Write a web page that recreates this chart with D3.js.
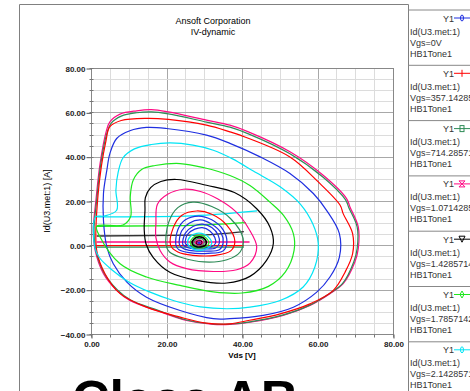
<!DOCTYPE html>
<html>
<head>
<meta charset="utf-8">
<script src="https://cdn.jsdelivr.net/npm/d3@7"></script>
<style>
  body { margin: 0; background: #fff; }
  svg { display: block; font-family: 'Liberation Sans', Arial, sans-serif; }
</style>
</head>
<body>
<script>
// loops, outermost first  [Vds, Id]
const loop25 = [[0.6,6.8],[1.3,20.3],[2.4,36.9],[4.0,51.2],[5.0,55.7],[7.7,59.2],[12.1,60.7],[16,61.2],[20.5,60.2],[30.6,56.5],[36.8,54.2],[41.7,51.2],[52.7,42.2],[61.5,31.6],[67.7,21.1],[68.6,17.3],[70.8,8.3],[70.8,-1.5],[69.9,-7.5],[66.8,-17.3],[63.3,-21.8],[58.0,-27.1],[50.9,-31.6],[42.1,-34.7],[36.8,-35.7],[32.4,-35.7],[25.3,-33.9],[17.4,-29.4],[10.3,-24.9],[6.8,-20.3],[3.3,-12.8],[1.1,-2.3]]
const loop24 = [[0.8,6.8],[1.5,20.3],[2.6,36.9],[4.2,50.5],[5.3,55.0],[8,58.3],[12.1,59.8],[16,60.2],[20.5,59.3],[30.6,55.6],[36.8,53.3],[41.7,50.3],[52.7,41.3],[61.5,30.7],[67.4,20.6],[68.3,17.0],[70.5,8.3],[70.5,-1.5],[69.6,-7.5],[66.6,-17.3],[63.1,-21.8],[57.8,-27.1],[50.7,-31.5],[42.1,-34.5],[36.8,-35.5],[32.4,-35.5],[25.3,-33.7],[17.6,-29.2],[10.5,-24.7],[7,-20.1],[3.5,-12.6],[1.3,-2.3]]
const loop23 = [[1.5,-2.3],[1.9,23.4],[4.0,47.5],[5.0,53.5],[8,56.3],[14.7,57.3],[20.5,56.8],[30.6,54.2],[36.8,51.2],[39.5,49.7],[52.7,39.9],[60.2,28.6],[66.0,18.1],[66.8,14.3],[69.3,5.3],[69.3,-3.8],[67.3,-12.1],[64.2,-20.3],[58.0,-26.4],[50.1,-30.9],[42,-33.8],[36.8,-35.4],[30.6,-35.1],[23.6,-32.4],[14.7,-27.9],[7.7,-21.8],[3.7,-12.8]]
const loop22 = [[3.3,11.3],[3.3,23.4],[4.2,33.9],[5.0,41.4],[6.8,48.2],[10.3,51.7],[14.7,53.2],[20.0,52.7],[30.6,49.7],[36.8,46.0],[44.8,39.9],[52.7,32.4],[58.9,23.4],[62.4,15.8],[65.8,5.3],[65.8,-5.3],[63.3,-14.3],[59.8,-21.1],[53.6,-27.9],[45.6,-31.6],[36.8,-33.1],[32.4,-33.1],[23.6,-29.4],[14.7,-23.4],[9.5,-16.6],[5.9,-8.3],[4.2,-0.8]]
const loop21 = [[6.8,15.8],[6.6,25],[7.2,33],[8.5,39.5],[11.5,43.5],[16,45.5],[21,46.2],[27,45.2],[32.4,42.9],[37.5,39],[43,33.5],[50.1,26.4],[55.5,18.5],[58.8,9.5],[60.2,0.8],[59.3,-9.8],[56.2,-18.8],[50.1,-24.9],[42.1,-27.9],[36,-28.6],[29,-27.8],[22,-25],[15.5,-21],[10,-16.5],[5.5,-11],[2.2,-5.5],[1.0,-0.8],[1.2,12.8],[3.5,13.2]]
const loop20 = [[10.5,13],[10.4,22],[11.2,29.5],[13.5,34.3],[17,36],[23.6,36.9],[30,35],[36.8,31.5],[42.1,27],[47.4,19.5],[51,13.5],[53.6,5.3],[53.8,-2.3],[51.5,-12],[47,-18.5],[40,-21.5],[32.4,-21],[23.6,-18.1],[14.7,-14.3],[7.7,-8.3],[2.4,3.8],[1.5,8.6],[8.5,9.2]]
const loop19 = [[14.3,15.8],[14.4,21.5],[15.8,26],[18.5,28.8],[22.7,29.7],[30.6,27.1],[38,23.8],[43.9,16.5],[47.4,8.3],[48.3,0.8],[46.5,-6.8],[42.1,-14],[36,-17],[28.0,-15.8],[21,-12.3],[16.5,-5.5],[14.6,0.5],[14.1,7]]
const loop18 = [[17.2,10],[17.6,18.5],[20.3,23],[24.5,25.3],[29,24.3],[33.5,21],[38.5,15],[41.8,7.5],[43.9,-0.8],[42.1,-8],[38.6,-11],[32.4,-11.8],[25.3,-10.5],[20.9,-7.5],[18.3,-2.3],[17.2,3.5]]
const loop17 = [[19.9,0],[20.5,10],[23,17],[27,19.5],[32,17.5],[37,12],[40.3,3],[39.5,-3],[36,-6.5],[30,-7.5],[24,-5.5],[20.8,-3]]
const loop16 = [[21.1,0],[21.8,8],[24,13.5],[28,15.5],[32,14],[36,9],[38.1,2],[37,-2.5],[33,-4.5],[27,-4.5],[23,-3]]
const loop15 = [[22.5,0],[23,7],[25,11.5],[28.5,13.2],[32,11.5],[35,7],[36,1.5],[35,-2.5],[31,-3.6],[26,-3.3],[23.3,-2]]
const loop14 = [[23.4,0.5],[24,6.5],[26,10],[29,11.5],[32,9.5],[34.5,5.5],[35,1],[34,-2],[30.5,-2.6],[26,-2.3],[24,-1]]
const loop13 = [[24.3,0.5],[25,5.5],[27,8.5],[29.5,9.6],[32,8],[33.7,4.5],[34,1],[33,-1.2],[30,-1.6],[26.5,-1.4],[25,-0.5]]
const loop12 = [[25.0,0.8],[25.6,5],[27.5,7.3],[29.5,8],[31.5,6.5],[32.8,3.5],[33,1],[32,-0.5],[29.5,-0.9],[27,-0.7],[25.6,0]]
const loop11 = [[25.6,1],[26.3,4],[28,5.4],[30,5],[31.5,3],[32,1],[31,-1.2],[29,-2.3],[27,-1.6]]
const loop10 = [[26.3,1],[27,3.5],[28.5,4.5],[30,4],[31,2.3],[31.2,0.8],[30.3,-0.7],[28.5,-1.3],[27,-0.6]]
const loop9 = [[26.8,1],[27.4,3],[28.6,3.8],[29.8,3.3],[30.5,1.8],[30.4,0.3],[29.3,-0.6],[27.8,-0.5]]
const loop8 = [[27.2,1],[27.8,2.6],[28.8,3.1],[29.7,2.6],[30,1.4],[29.6,0.2],[28.5,-0.2],[27.6,0.1]]
const loop7 = [[27.6,1],[28,2.2],[28.8,2.5],[29.4,2],[29.6,1],[29.1,0.3],[28.3,0.2]]
const loop6 = [[27.9,1],[28.3,1.9],[28.9,2],[29.3,1.5],[29.2,0.7],[28.6,0.4]]
const loop5 = [[28.1,1.1],[28.5,1.7],[29,1.6],[29.1,1],[28.6,0.7]]
const loop4 = [[28.3,1.1],[28.6,1.5],[28.9,1.3],[28.7,0.9]]

// horizontal start lines (one per trace that shows it)
const tailCyan = [[1.5,12.8],[25,13.2],[44,15.5]]
const tailGreen = [[1.5,8.6],[25,8.9],[41,10.2]]
const tailBlack = [[1.5,4.2],[28,4.6],[40.5,6.2]]
const tailMagenta = [[1.5,1.5],[42,1.5]]
const tailRed = [[1.5,-0.1],[40.5,-0.1]]
const tailDkGreen = [[1.5,-0.8],[40.5,-0.8]]

const blue = '#1f2fe0', red = '#ff0000', dkgreen = '#2e8b57', magenta = '#ff0a84'
const black = '#000000', green = '#1ee81e', cyan = '#00e5f5'
const palette = [blue, red, dkgreen, magenta, black, green, cyan]
const loops = [loop25, loop24, loop23, loop22, loop21, loop20, loop19, loop18, loop17, loop16, loop15, loop14, loop13, loop12, loop11, loop10, loop9, loop8, loop7, loop6, loop5, loop4]
const loopColors = [magenta, dkgreen, red, blue, cyan, green, black, magenta, dkgreen, red, blue, blue, blue, blue, cyan, green, black, dkgreen, magenta, black, magenta, blue]
const tails = [tailCyan, tailGreen, tailBlack, tailMagenta, tailRed, tailDkGreen]
const tailColors = [cyan, green, '#333333', magenta, red, dkgreen]

const xTicks = [0, 20, 40, 60, 80]
const yTicks = [-40, -20, 0, 20, 40, 60, 80]
const legendVgs = ['0V', '357.142857', '714.285714', '1.07142857', '1.42857143', '1.78571429', '2.14285714']
const legendMarks = ['o', '+', 's', 'x', 'v', 'd', 'o']

const W = 470, H = 391
const svg = d3.select('body').append('svg').attr('width', W).attr('height', H)

// outer frame
svg.append('path').attr('d', 'M19.5,391 V4.5 H408.5 V391')
  .attr('fill', 'none').attr('stroke', '#808080')

const x = d3.scaleLinear().domain([0, 80]).range([91, 393])
const y = d3.scaleLinear().domain([-40, 80]).range([334, 68])

svg.append('text').attr('x', 213).attr('y', 24).attr('text-anchor', 'middle')
  .style('font-size', '9px').text('Ansoft Corporation')
svg.append('text').attr('x', 213).attr('y', 35).attr('text-anchor', 'middle')
  .style('font-size', '9px').text('IV-dynamic')

// grid
const g = svg.append('g')
g.selectAll('.vx').data(d3.range(0, 81, 5)).enter().append('line')
  .attr('x1', d => Math.round(x(d)) + 0.5).attr('x2', d => Math.round(x(d)) + 0.5)
  .attr('y1', y(80)).attr('y2', y(-40))
  .attr('stroke', d => d % 20 === 0 ? '#a8a8a8' : '#dcdcdc')
g.selectAll('.hy').data(d3.range(-40, 81, 5)).enter().append('line')
  .attr('y1', d => Math.round(y(d)) + 0.5).attr('y2', d => Math.round(y(d)) + 0.5)
  .attr('x1', x(0)).attr('x2', x(80))
  .attr('stroke', d => d % 20 === 0 ? '#a8a8a8' : '#dcdcdc')
g.append('rect').attr('x', x(0) + 0.5).attr('y', y(80) + 0.5)
  .attr('width', x(80) - x(0)).attr('height', y(-40) - y(80))
  .attr('fill', 'none').attr('stroke', '#888')

// axes
const xAxis = svg.append('g').attr('transform', `translate(0.5,${Math.round(y(-40)) + 0.5})`)
  .call(d3.axisBottom(x).tickValues(xTicks).tickFormat(d3.format('.2f')).tickSize(4).tickPadding(3))
const yAxis = svg.append('g').attr('transform', `translate(${x(0) + 0.5},0.5)`)
  .call(d3.axisLeft(y).tickValues(yTicks).tickFormat(d3.format('.2f')).tickSize(5).tickPadding(1))
;[xAxis, yAxis].forEach(a => {
  a.select('.domain').remove()
  a.selectAll('line').attr('stroke', '#555')
  a.selectAll('text').style('font-size', '8px').style('font-weight', 'bold').attr('fill', '#222')
})
xAxis.selectAll('.minor').data(d3.range(0, 81, 5)).enter().append('line')
  .attr('x1', d => Math.round(x(d))).attr('x2', d => Math.round(x(d))).attr('y1', 0).attr('y2', 3).attr('stroke', '#777')
yAxis.selectAll('.minor').data(d3.range(-40, 81, 5)).enter().append('line')
  .attr('y1', d => Math.round(y(d))).attr('y2', d => Math.round(y(d))).attr('x1', -2).attr('x2', 2).attr('stroke', '#777')

svg.append('text').attr('x', 242).attr('y', 358).attr('text-anchor', 'middle')
  .style('font-size', '8px').style('font-weight', 'bold').text('Vds [V]')
svg.append('text').attr('transform', `translate(50,${(y(80) + y(-40)) / 2}) rotate(-90)`)
  .attr('text-anchor', 'middle').style('font-size', '9px').text('Id(U3.met:1) [A]')

// traces
const plot = svg.append('g')
const loopLine = d3.line().x(d => x(d[0])).y(d => y(d[1])).curve(d3.curveCatmullRomClosed.alpha(0.5))
const tailLine = d3.line().x(d => x(d[0])).y(d => y(d[1])).curve(d3.curveMonotoneX)

plot.selectAll('.tail').data(tails).enter().append('path')
  .attr('d', tailLine).attr('fill', 'none')
  .attr('stroke', (d, i) => tailColors[i]).attr('stroke-width', 1.3)

plot.selectAll('.loop').data(loops).enter().append('path')
  .attr('d', loopLine).attr('fill', 'none')
  .attr('stroke', (d, i) => loopColors[i])
  .attr('stroke-width', (d, i) => i === 16 ? 1.8 : 1.2)

// legend
const lg = svg.append('g')
legendVgs.forEach((v, i) => {
  const top = 9.5 + i * 55.3
  const e = lg.append('g').attr('transform', `translate(0,${top})`)
  e.append('line').attr('x1', 408).attr('x2', 470).attr('y1', 0.5).attr('y2', 0.5).attr('stroke', '#888')
  e.append('text').attr('x', 454).attr('y', 12).attr('text-anchor', 'end').style('font-size', '9px').attr('fill', '#333').text('Y1')
  e.append('line').attr('x1', 454).attr('x2', 470).attr('y1', 8.5).attr('y2', 8.5).attr('stroke', palette[i])
  const m = e.append('g').attr('transform', 'translate(462,8.5)').attr('stroke', palette[i]).attr('fill', 'none')
  const k = legendMarks[i]
  if (k === 'o') m.append('ellipse').attr('rx', 1.5).attr('ry', 3)
  if (k === '+') m.append('line').attr('y1', -3.5).attr('y2', 3.5)
  if (k === 's') m.append('rect').attr('x', -2).attr('y', -3).attr('width', 4).attr('height', 6)
  if (k === 'x') m.append('path').attr('d', 'M-3,-3L3,-3L-3,3L3,3Z')
  if (k === 'v') m.append('path').attr('d', 'M-3,-3L3,-3L0,3Z')
  if (k === 'd') m.append('path').attr('d', 'M0,-3.5L2,0L0,3.5L-2,0Z')
  e.append('text').attr('x', 410).attr('y', 25).style('font-size', '9px').attr('fill', '#333').text('Id(U3.met:1)')
  e.append('text').attr('x', 410).attr('y', 36).style('font-size', '9px').attr('fill', '#333').text('Vgs=' + v)
  e.append('text').attr('x', 410).attr('y', 47).style('font-size', '9px').attr('fill', '#333').text('HB1Tone1')
})

svg.append('text').attr('x', 72).attr('y', 417)
  .style('font-size', '52px').style('font-weight', 'bold').text('Class AB')
</script>
</body>
</html>
